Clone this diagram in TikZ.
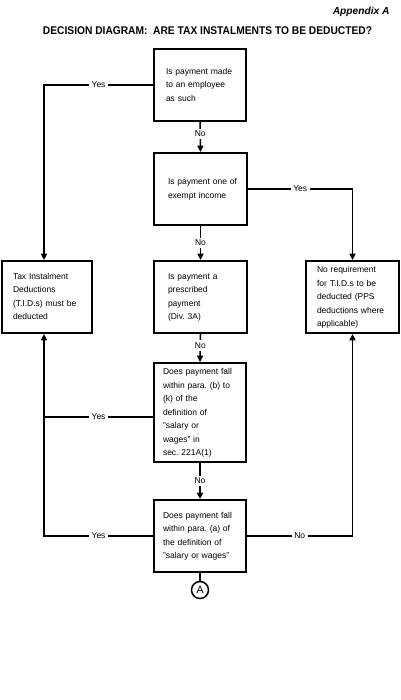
\documentclass[tikz,border=0pt]{standalone}
\usepackage{fontspec}
\setmainfont{Liberation Sans}
\usetikzlibrary{arrows.meta,calc}
\frenchspacing
\newcommand{\bxH}{72}
\newcommand{\colM}{200}
\newcommand{\bxtext}[1]{\begin{tabular}{@{}l@{}}#1\end{tabular}}
\tikzset{
  dbox/.style    ={draw=black,line width=1.8pt,align=left,inner ysep=0pt,minimum height=\bxH,
                   font=\fontsize{8.5}{13.5}\selectfont},
  qbox/.style 2 args={dbox,text width=#1,inner xsep=#2},
  dline/.style   ={line width=1.5pt},
  darr/.style    ={dline,-{Triangle[length=6.5pt,width=6pt]}},
  dlab/.style    ={fill=white,inner sep=2.5pt,font=\fontsize{8.5}{10}\selectfont},
  dcon/.style    ={circle,draw=black,line width=1.5pt,inner sep=0pt,minimum size=17pt,
                   font=\fontsize{10.5}{12}\selectfont},
}

\begin{document}
\begin{tikzpicture}[x=1pt,y=-1pt]
  \useasboundingbox (0,0) rectangle (400,700);
  % headings
  \node[anchor=east,font=\bfseries\itshape\fontsize{10.2}{12}\selectfont] (apx) at (393,12) {Appendix A};
  \node (ttl) at (207.5,31) {\resizebox{329pt}{7.8pt}{\bfseries DECISION DIAGRAM:\ \ ARE TAX INSTALMENTS TO BE DEDUCTED?}};
  % questions down the middle
  \node[qbox={68}{12}] (q1) at (\colM,85) {\bxtext{Is payment made\\to an employee\\as such}};
  \node[qbox={65}{14}] (q2) at (\colM+0.5,189) {\bxtext{Is payment one of\\exempt income}};
  \node[qbox={65}{14}] (q3) at (\colM+0.5,297) {\bxtext{Is payment a\\prescribed\\payment\\(Div. 3A)}};
  \node[qbox={74}{9},minimum height=99] (q4) at (\colM,412.5) {\bxtext{Does payment fall\\within para. (b) to\\(k) of the\\definition of\\"salary or\\wages" in\\sec. 221A(1)}};
  \node[qbox={74}{9}] (q5) at (\colM,536) {\bxtext{Does payment fall\\within para. (a) of\\the definition of\\"salary or wages"}};
  % outcomes
  \node[qbox={68}{11}] (tid) at (47,297) {\bxtext{Tax Instalment\\Deductions\\(T.I.D.s) must be\\deducted}};
  \node[qbox={71}{11}] (nrq) at (352.5,297) {\bxtext{No requirement\\for T.I.D.s to be\\deducted (PPS\\deductions where\\applicable)}};
  \node[dcon] (conA) at (\colM,590) {A};
  \coordinate (jLt) at ([xshift=-3pt]tid.north);
  \coordinate (jLb) at ([xshift=-3pt]tid.south);
  \coordinate (q4y) at ([yshift=-4.5pt]q4.west);
  % connectors
  \draw[darr] (q1.south) -- node[dlab,pos=0.4] {No} (q2.north);
  \draw[darr] (q2.south) -- node[dlab] {No} (q3.north);
  \draw[darr] (q3.south) -- node[dlab,pos=0.4] {No} (q4.north);
  \draw[darr] (q4.south) -- node[dlab] {No} (q5.north);
  \draw[darr] (q1.west) -| node[dlab,pos=0.25] {Yes} (jLt);
  \draw[darr] (q2.east) -| node[dlab,pos=0.25] {Yes} (nrq.north);
  \draw[dline] (q4y) -- node[dlab] {Yes} (q4y -| jLb);
  \draw[darr] (q5.west) -| node[dlab,pos=0.25] {Yes} (jLb);
  \draw[darr] (q5.east) -| node[dlab,pos=0.25] {No} (nrq.south);
  \draw[dline] (q5.south) -- (conA.north);
\end{tikzpicture}
\end{document}
